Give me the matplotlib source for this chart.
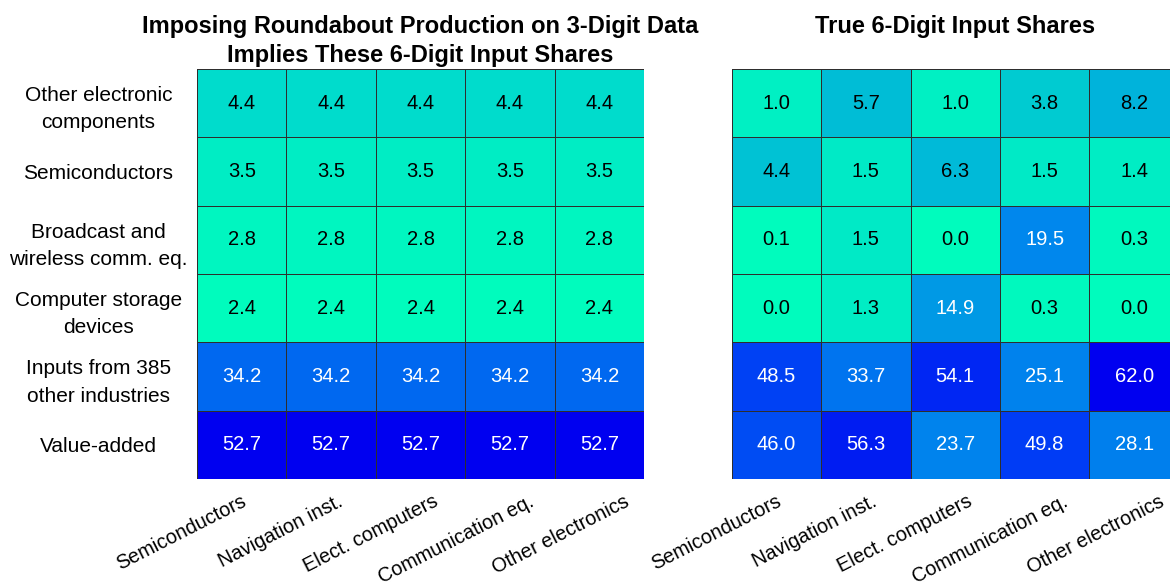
import numpy as np
import matplotlib
matplotlib.use("Agg")
import matplotlib.pyplot as plt
import matplotlib.transforms as mtransforms
from matplotlib.colors import LinearSegmentedColormap

plt.rcParams['font.family'] = ['Liberation Sans', 'DejaVu Sans']

rows = ["Other electronic\ncomponents", "Semiconductors", "Broadcast and\nwireless comm. eq.",
        "Computer storage\ndevices", "Inputs from 385\nother industries", "Value-added"]
cols = ["Semiconductors", "Navigation inst.", "Elect. computers", "Communication eq.", "Other electronics"]

# implied shares (3-digit roundabout)
implied_col = [4.4, 3.5, 2.8, 2.4, 34.2, 52.7]
implied = np.array([implied_col] * 5).T

# true 6-digit shares
true_shares = np.array([
    [1.0, 5.7, 1.0, 3.8, 8.2],
    [4.4, 1.5, 6.3, 1.5, 1.4],
    [0.1, 1.5, 0.0, 19.5, 0.3],
    [0.0, 1.3, 14.9, 0.3, 0.0],
    [48.5, 33.7, 54.1, 25.1, 62.0],
    [46.0, 56.3, 23.7, 49.8, 28.1],
])

cmap = LinearSegmentedColormap.from_list("gb", [
    (0.00, (0.0, 0.99, 0.74)),
    (0.02, (0.0, 0.93, 0.77)),
    (0.04, (0.0, 0.86, 0.80)),
    (0.07, (0.0, 0.76, 0.83)),
    (0.13, (0.0, 0.70, 0.86)),
    (0.24, (0.0, 0.60, 0.90)),
    (0.31, (0.0, 0.53, 0.93)),
    (0.45, (0.0, 0.50, 0.93)),
    (0.62, (0.0, 0.42, 0.94)),
    (0.80, (0.0, 0.24, 0.96)),
    (1.00, (0.0, 0.0, 0.94)),
])


def heatmap(ax, data, show_rows):
    vmin, vmax = data.min(), data.max()
    ax.pcolormesh(data, cmap=cmap, vmin=vmin, vmax=vmax, edgecolors='#2e2e2e', linewidth=0.6)
    ax.set_xlim(0, data.shape[1])
    ax.set_ylim(data.shape[0], 0)
    for i in range(data.shape[0]):
        for j in range(data.shape[1]):
            t = (data[i, j] - vmin) / (vmax - vmin)
            ax.text(j + 0.5, i + 0.5, f"{data[i, j]:.1f}", ha='center', va='center',
                    fontsize=14.5, color='white' if t > 0.2 else 'black')
    # rotated column labels; they drift a little to the right across the columns
    ax.set_xticks([])
    for j, lab in enumerate(cols):
        shift = mtransforms.ScaledTranslation((8 + 6.2 * j) / 100, -13 / 100, ax.figure.dpi_scale_trans)
        ax.text(j + 0.5, 0, lab, transform=ax.get_xaxis_transform() + shift,
                rotation=27, ha='right', va='top', fontsize=14.3)
    ax.set_yticks(np.arange(len(rows)) + 0.5)
    if show_rows:
        ax.set_yticklabels(rows, ha='center', fontsize=15, linespacing=1.55)
        ax.tick_params(axis='y', pad=71)
    else:
        ax.set_yticklabels([])
    ax.tick_params(length=0)
    for s in ax.spines.values():
        s.set_visible(False)


fig = plt.figure(figsize=(11.7, 5.82), dpi=100)
ax1 = fig.add_axes([0.1684, 0.177, 0.3821, 0.7045])
ax2 = fig.add_axes([0.6254, 0.177, 0.3821, 0.7045])
heatmap(ax1, implied, True)
heatmap(ax2, true_shares, False)

# titles placed by baseline (pixels from top: 33 and 62)
fig.text(0.3594, 1 - 33 / 582, "Imposing Roundabout Production on 3-Digit Data",
         ha='center', va='baseline', fontsize=17, fontweight='bold')
fig.text(0.3594, 1 - 62 / 582, "Implies These 6-Digit Input Shares",
         ha='center', va='baseline', fontsize=17, fontweight='bold')
fig.text(0.6254 + 0.3821 / 2, 1 - 33 / 582, "True 6-Digit Input Shares",
         ha='center', va='baseline', fontsize=17, fontweight='bold')

fig.savefig("out.png", dpi=100)
